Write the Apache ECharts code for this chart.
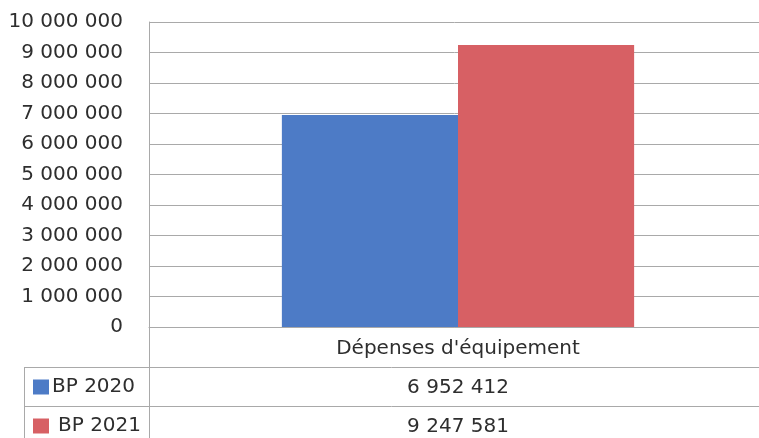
<!DOCTYPE html>
<html>
<head>
<meta charset="utf-8">
<script src="https://cdn.jsdelivr.net/npm/echarts@6/dist/echarts.min.js"></script>
<style>
  html, body { margin: 0; padding: 0; background: #ffffff; }
  #chart { width: 759px; height: 438px; }
</style>
</head>
<body>
<div id="chart"></div>
<script>
// Budget lines compared between the two budgets
const categories = ["Dépenses d'équipement"];
const seriesNames = ['BP 2020', 'BP 2021'];
const bp2020 = [6952412];
const bp2021 = [9247581];
const yTicks = [0, 1000000, 2000000, 3000000, 4000000, 5000000, 6000000, 7000000, 8000000, 9000000, 10000000];

const FONT = 'DejaVu Sans';
const FS = 20;
const TEXT = '#2e2e2e';
const LINE = '#a9a9a9';

// French-style thousands grouping with spaces
function fmt(n) {
  return String(n).replace(/\B(?=(\d{3})+(?!\d))/g, ' ');
}

// one legend key per table row
function legendRow(name, top, textPad) {
  return {
    orient: 'vertical',
    left: 33, top: top,
    padding: 0,
    icon: 'rect',
    itemWidth: 16, itemHeight: 15,
    selectedMode: false,
    textStyle: { fontFamily: FONT, fontSize: FS, color: TEXT, padding: [0, 0, 0, textPad] },
    data: [name]
  };
}

const chart = echarts.init(document.getElementById('chart'), null, { renderer: 'canvas' });

const option = {
  animation: false,
  backgroundColor: '#ffffff',
  grid: {
    left: 149, right: -8, top: 22, bottom: 111,
    outerBoundsMode: 'none'
  },
  legend: [
    legendRow(seriesNames[0], 377, -2),
    legendRow(seriesNames[1], 416, 4)
  ],
  xAxis: {
    type: 'category',
    data: categories,
    axisLine: { show: true, lineStyle: { color: LINE, width: 1 } },
    axisTick: { show: false },
    axisLabel: {
      margin: 2,
      formatter: function (value, idx) {
        return '{c|' + value + '}\n{v|' + fmt(bp2020[idx]) + '}\n{v|' + fmt(bp2021[idx]) + '}';
      },
      rich: {
        c: { fontFamily: FONT, fontSize: FS, color: TEXT, lineHeight: 39 },
        v: { fontFamily: FONT, fontSize: FS, color: TEXT, lineHeight: 39 }
      }
    }
  },
  yAxis: {
    type: 'value',
    min: yTicks[0],
    max: yTicks[yTicks.length - 1],
    interval: yTicks[1] - yTicks[0],
    axisLine: { show: true, lineStyle: { color: LINE, width: 1 } },
    axisTick: { show: false },
    splitLine: { show: true, lineStyle: { color: LINE, width: 1 } },
    axisLabel: {
      margin: 26,
      padding: [6, 0, 0, 0],
      fontFamily: FONT, fontSize: FS, color: TEXT,
      formatter: function (v) { return fmt(v); }
    }
  },
  series: [
    {
      name: seriesNames[0], type: 'bar', data: bp2020,
      barGap: '0%', barCategoryGap: '43%',
      itemStyle: { color: '#4d7bc6' }
    },
    {
      name: seriesNames[1], type: 'bar', data: bp2021,
      barGap: '0%', barCategoryGap: '43%',
      itemStyle: { color: '#d76064' }
    }
  ],
  // data table borders below the plot
  graphic: [
    { type: 'line', shape: { x1: 149.5, y1: 327, x2: 149.5, y2: 438 }, style: { stroke: LINE, lineWidth: 1 }, silent: true },
    { type: 'line', shape: { x1: 24.5, y1: 367, x2: 24.5, y2: 438 }, style: { stroke: LINE, lineWidth: 1 }, silent: true },
    { type: 'line', shape: { x1: 24, y1: 367.5, x2: 759, y2: 367.5 }, style: { stroke: LINE, lineWidth: 1 }, silent: true },
    { type: 'line', shape: { x1: 24, y1: 406.5, x2: 759, y2: 406.5 }, style: { stroke: LINE, lineWidth: 1 }, silent: true }
  ]
};

chart.setOption(option);
</script>
</body>
</html>
